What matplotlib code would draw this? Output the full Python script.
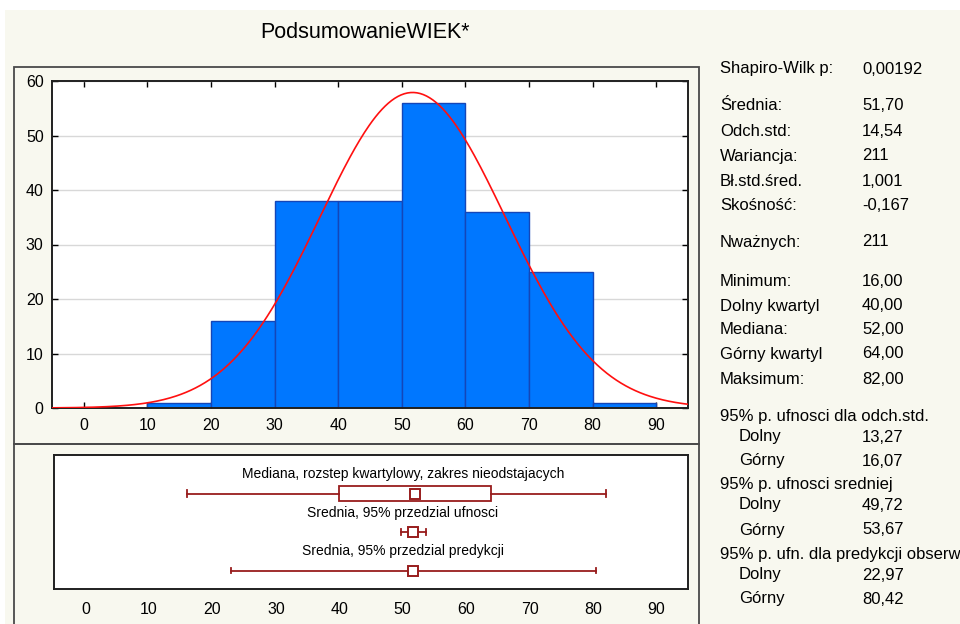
import numpy as np
import matplotlib
matplotlib.use("Agg")
import matplotlib.pyplot as plt
from matplotlib.patches import Rectangle

plt.rcParams['font.family'] = ['Liberation Sans', 'DejaVu Sans']

# ---- data -------------------------------------------------------------
title = "PodsumowanieWIEK*"
bin_edges = [10, 20, 30, 40, 50, 60, 70, 80, 90]
counts = [1, 16, 38, 38, 56, 36, 25, 1]

n_valid = 211
mean = 51.70
std = 14.54
q_min, q1, median, q3, q_max = 16.0, 40.0, 52.0, 64.0, 82.0
mean_ci = (49.72, 53.67)
pred_ci = (22.97, 80.42)

x_ticks = [0, 10, 20, 30, 40, 50, 60, 70, 80, 90]
y_ticks = [0, 10, 20, 30, 40, 50, 60]

box_titles = ["Mediana, rozstep kwartylowy, zakres nieodstajacych",
              "Srednia, 95% przedzial ufnosci",
              "Srednia, 95% przedzial predykcji"]

stat_labels = ["Shapiro-Wilk p:", "Średnia:", "Odch.std:", "Wariancja:",
               "Bł.std.śred.", "Skośność:", "Nważnych:", "Minimum:",
               "Dolny kwartyl", "Mediana:", "Górny kwartyl", "Maksimum:",
               "95% p. ufnosci dla odch.std.", "Dolny", "Górny",
               "95% p. ufnosci sredniej", "Dolny", "Górny",
               "95% p. ufn. dla predykcji obserw", "Dolny", "Górny"]
stat_values = ["0,00192", "51,70", "14,54", "211", "1,001", "-0,167", "211",
               "16,00", "40,00", "52,00", "64,00", "82,00",
               "", "13,27", "16,07", "", "49,72", "53,67", "", "22,97", "80,42"]

# ---- layout helpers ---------------------------------------------------
W, H = 960, 624
fig = plt.figure(figsize=(W / 100, H / 100), dpi=100, facecolor="white")


def fx(px):
    return px / W


def fy(py):
    return 1 - py / H


BG = "#F8F8EF"
DARK_RED = "#981C1C"

fig.patches.append(Rectangle((fx(5), 0), 1 - fx(5), fy(10), transform=fig.transFigure,
                             facecolor=BG, edgecolor="none", zorder=-10))
# panel frames
for top, bot in [(67, 444), (444, 640)]:
    fig.patches.append(Rectangle((fx(14), fy(bot)), fx(699) - fx(14), fy(top) - fy(bot),
                                 transform=fig.transFigure, facecolor="none",
                                 edgecolor="#4A4A4A", lw=1.3, zorder=-5))

fig.text(fx(365), fy(33), title, ha="center", va="center", fontsize=15.5)

# ---- histogram --------------------------------------------------------
ax = fig.add_axes([fx(52), fy(408), fx(688) - fx(52), fy(81) - fy(408)])
ax.set_facecolor("white")
ax.bar(bin_edges[:-1], counts, width=10, align="edge", color="#0077FF",
       edgecolor="#1446B8", linewidth=1.0, zorder=2)
xs = np.linspace(-5, 95, 400)
binw = bin_edges[1] - bin_edges[0]
pdf = n_valid * binw / (std * np.sqrt(2 * np.pi)) * np.exp(-0.5 * ((xs - mean) / std) ** 2)
ax.plot(xs, pdf, color="#FF1010", lw=1.2, zorder=3)
ax.set_xlim(-5, 95)
ax.set_ylim(0, 60)
ax.set_xticks(x_ticks)
ax.set_yticks(y_ticks)
ax.yaxis.grid(True, color="#D8D8D8", lw=1.0, zorder=0)
ax.set_axisbelow(True)
ax.tick_params(direction="in", top=True, right=True, length=4, width=1,
               labelsize=11.5, pad=7)
ax.tick_params(axis="y", pad=6)
for s in ax.spines.values():
    s.set_linewidth(1.4)
    s.set_color("#202020")

# ---- box / interval panel --------------------------------------------
bx = fig.add_axes([fx(54), fy(589), fx(688) - fx(54), fy(455) - fy(589)])
bx.set_facecolor("white")
bx.set_xlim(-5, 95)
bx.set_ylim(3.48, 0)
bx.set_xticks(x_ticks)
bx.set_yticks([])
bx.tick_params(axis="x", length=0, labelsize=11.5, pad=9)
for s in bx.spines.values():
    s.set_linewidth(1.4)
    s.set_color("#202020")

for i, t in enumerate(box_titles):
    bx.text(50, i + 0.5, t, ha="center", va="center", fontsize=10)

cap = 0.1
# row 1: median, quartile box, non-outlier range
bx.add_patch(Rectangle((q1, 1 - 0.2), q3 - q1, 0.4, facecolor="white",
                       edgecolor=DARK_RED, lw=1.3, zorder=2))
bx.plot([q_min, q1], [1, 1], color=DARK_RED, lw=1.3)
bx.plot([q3, q_max], [1, 1], color=DARK_RED, lw=1.3)
for v in (q_min, q_max):
    bx.plot([v, v], [1 - cap, 1 + cap], color=DARK_RED, lw=1.3)
bx.plot([median], [1], marker="s", ms=6.5, mfc="white", mec=DARK_RED, mew=1.4, zorder=3)

# rows 2 and 3: mean with intervals
for row, (lo, hi) in ((2, mean_ci), (3, pred_ci)):
    bx.plot([lo, hi], [row, row], color=DARK_RED, lw=1.3, zorder=2)
    for v in (lo, hi):
        bx.plot([v, v], [row - cap * 0.7, row + cap * 0.7], color=DARK_RED, lw=1.3)
    bx.plot([mean], [row], marker="s", ms=6.5, mfc="white", mec=DARK_RED,
            mew=1.4, zorder=3)

# ---- statistics column ------------------------------------------------
row_y = [69, 106, 131, 156, 181, 206, 242, 281, 306, 330, 354, 379,
         417, 437, 461, 485, 505, 530, 555, 575, 599]
for lab, val, y in zip(stat_labels, stat_values, row_y):
    indent = lab in ("Dolny", "Górny")
    fig.text(fx(739 if indent else 720), fy(y), lab, ha="left", va="center",
             fontsize=12)
    if val:
        fig.text(fx(862), fy(y), val, ha="left", va="center", fontsize=12)

fig.savefig("out.png", dpi=100)
